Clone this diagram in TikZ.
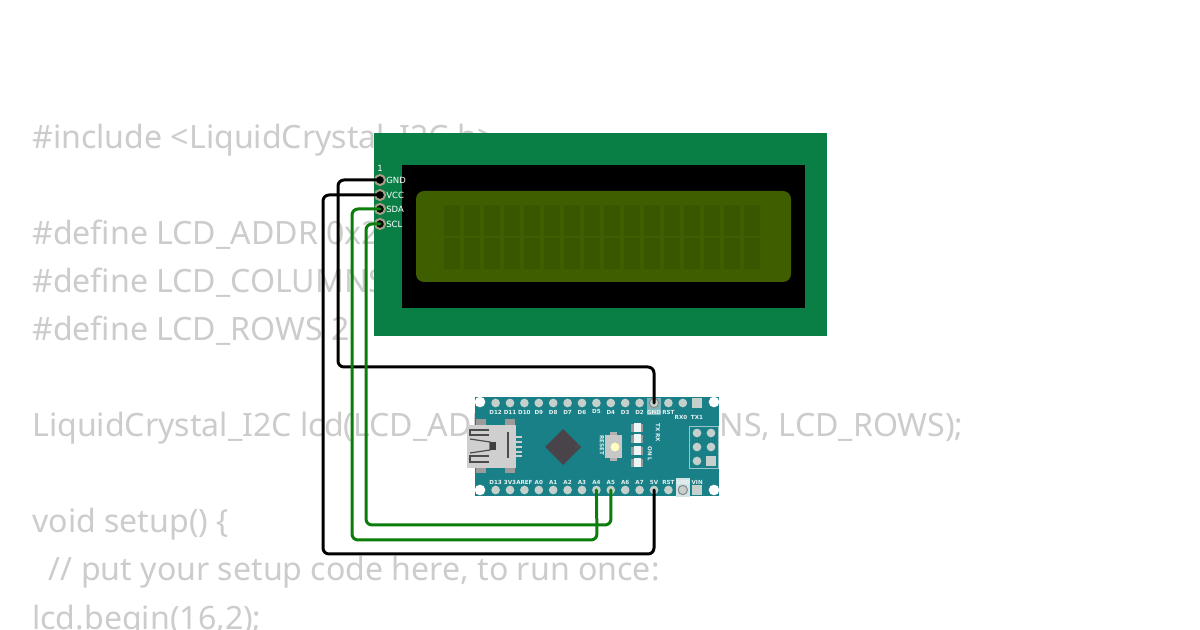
\documentclass[tikz,border=0pt]{standalone}
\usepackage{fontspec}
\setmainfont{Noto Sans}
\newfontfamily\dvfont{DejaVu Sans}
\definecolor{codegray}{HTML}{CCCCCC}
\definecolor{pcbgreen}{HTML}{0A7F45}
\definecolor{lcdgreen}{HTML}{3E5E00}
\definecolor{lcdcell}{HTML}{385700}
\definecolor{pinring}{HTML}{A79F83}
\definecolor{nanoteal}{HTML}{1A8087}
\definecolor{nanopin}{HTML}{C5D0CC}
\definecolor{wiregreen}{HTML}{0A7D0A}
\definecolor{usbgray}{HTML}{CFCFCF}
\definecolor{chipgray}{HTML}{48444A}
\tikzset{
  x=0.75pt,y=-0.75pt,
  codeline/.style={anchor=base west,inner sep=0pt,text=codegray,font=\fontsize{24.08}{29}\selectfont},
  lcdpin/.style={circle,draw=pinring,line width=1.5pt,fill=black,minimum size=7.5pt,inner sep=0pt},
  lcdlabel/.style={anchor=west,inner sep=0pt,text=white,font=\dvfont\fontsize{6.4}{7}\selectfont},
  nanohole/.style={circle,fill=nanopin,minimum size=6.5pt,inner sep=0pt},
  gndhole/.style={circle,draw=black!45,fill=nanopin,line width=.8pt,minimum size=7pt,inner sep=0pt},
  nanosq/.style={rectangle,fill=nanopin,minimum size=7.5pt,inner sep=0pt},
  nanolabel/.style={inner sep=0pt,text=white!90!nanoteal,font=\dvfont\bfseries\fontsize{4.2}{5}\selectfont},
  corner/.style={circle,fill=white,minimum size=8pt,inner sep=0pt},
  wire/.style={line width=2.25pt,rounded corners=4.5pt,line cap=round},
  usbline/.style={black!70,line width=.9pt},
}
\begin{document}
\begin{tikzpicture}
\useasboundingbox (0,0) rectangle (1200,630);
\fill[white] (0,0) rectangle (1200,630);
% code
\node[codeline] (c1) at (32,149) {\#include <LiquidCrystal\_I2C.h>};
\node[codeline] (c2) at (32,245) {\#define LCD\_ADDR 0x27};
\node[codeline] (c3) at (32,293) {\#define LCD\_COLUMNS 16};
\node[codeline] (c4) at (32,341) {\#define LCD\_ROWS 2};
\node[codeline] (c5) at (32,437) {LiquidCrystal\_I2C lcd(LCD\_ADDR, LCD\_COLUMNS, LCD\_ROWS);};
\node[codeline] (c6) at (32,533) {void setup() \{};
\node[codeline] (c7) at (32,581) {\hspace*{12.5pt}// put your setup code here, to run once:};
\node[codeline] (c8) at (32,629) {lcd.begin(16,2);};
% LCD
\fill[pcbgreen] (374,133) rectangle (827,336);
\fill[black] (402,165) rectangle (805,308);
\fill[lcdgreen,rounded corners=6pt] (416,191) rectangle (791,282);
\foreach \i in {0,...,15}{
  \fill[lcdcell] (444+20.03*\i,205) rectangle ++(15.5,31);
  \fill[lcdcell] (444+20.03*\i,238) rectangle ++(15.5,31);
}
\node[lcdlabel,anchor=center] (one) at (380,168) {1};
\node[lcdpin] (lg) at (380,180) {};
\node[lcdpin] (lv) at (380,195) {};
\node[lcdpin] (ls) at (380,209) {};
\node[lcdpin] (lc) at (380,224) {};
\node[lcdlabel] (tg) at (386,180.5) {GND};
\node[lcdlabel] (tv) at (386,195) {VCC};
\node[lcdlabel] (ts) at (386,209.5) {SDA};
\node[lcdlabel] (tc) at (386,224.5) {SCL};
% Nano board
\fill[nanoteal] (475,397) rectangle (719,496);
\fill[white!42!nanoteal] (647,398) rectangle (661,415);
\fill[white!80!nanoteal] (676,478) rectangle (690,497);
\foreach \p/\n in {480/a,714/b}{
  \node[corner] (ct\n) at (\p,402) {};
  \node[corner] (cb\n) at (\p,490) {};
}
% header pins
\foreach \n/\l [count=\i from 0] in {d12/D12,d11/D11,d10/D10,d9/D9,d8/D8,d7/D7,d6/D6,d5/D5,d4/D4,d3/D3,d2/D2,gndt/GND,rstt/RST}{
  \node[nanohole] (\n) at (495.6+14.4*\i,403) {};
  \node[nanolabel] (lab\n) at (495.6+14.4*\i,412) {\l};
}
\node[nanohole] (rx) at (682.8,403) {};
\node[nanosq] (tx) at (697.2,403) {};
\node[nanolabel] (labrx) at (681,417) {RX0};
\node[nanolabel] (labtx) at (697,417) {TX1};
\foreach \n/\l [count=\i from 0] in {d13/D13,v33/3V3,aref/AREF,a0/A0,a1/A1,a2/A2,a3/A3,a4/A4,a5/A5,a6/A6,a7/A7,v5/5V,rstb/RST}{
  \node[nanohole] (\n) at (495.6+14.4*\i,490) {};
  \node[nanolabel] (lab\n) at (495.6+14.4*\i,482) {\l};
}
\node[gndhole] (gndb) at (682.8,490) {};
\node[nanosq] (vin) at (697.2,490) {};
\node[nanolabel] (labgndb) at (682.8,482) {GND};
\node[nanolabel] (labvin) at (697.2,482) {VIN};
\node[gndhole] at (gndt) {};
% USB
\foreach \x in {476,505}{
  \fill[black!25!usbgray] (\x,419) rectangle ++(10,6);
  \fill[black!25!usbgray] (\x,468) rectangle ++(10,5);
}
\foreach \y in {437,442,447,452,456} \fill[usbgray] (516,\y-1) rectangle (522,\y+1);
\fill[usbgray] (467,425) rectangle (516,468);
\draw[usbline] (489,430) -- (470,430) -- (470,435) -- (489,435);
\draw[usbline] (470,439) -- (490,442) -- (490,450) -- (470,453);
\draw[usbline] (489,456) -- (470,456) -- (470,462) -- (489,462);
\fill[black!75] (490,442) rectangle (496,450);
\draw[usbline] (508,432) -- (508,458);
% chip
\fill[chipgray] (563,429) -- (581,447) -- (563,465) -- (545,447) -- cycle;
\fill[black!70] (577,447) circle (2);
% reset
\fill[black!30] (610,432) rectangle (617,461);
\fill[black!22] (605,435) rectangle (622,458);
\fill[yellow!25!white,draw=black!25,line width=.4pt] (615,447) circle (5);
\node[nanolabel,rotate=-90] (labreset) at (602,445) {RESET};
% LEDs
\foreach \y in {428,439,451,463}{
  \fill[black!40] (631,\y-4) rectangle (643,\y+4);
  \fill[white!92!nanoteal] (634,\y-4.5) rectangle (640.5,\y+4.5);
}
\node[nanolabel,rotate=-90] (labtxrx) at (658,433) {TX\,\,RX};
\node[nanolabel,rotate=-90] (labonl) at (650,454) {ON\,\,L};
% ICSP
\draw[white!55!nanoteal,line width=.6pt] (689,426) rectangle (718,468);
\foreach \x/\y/\n in {697/433/a,711/433/b,697/447/c,711/447/d,697/461/e}
  \node[nanohole] (icsp\n) at (\x,\y) {};
\node[nanosq] (icspf) at (711,461) {};
% wires
\draw[wire,black] (lg.center) -- (338,180) -- (338,367) -- (654,367) -- (gndt.center);
\draw[wire,black] (lv.center) -- (323,195) -- (323,554) -- (654,554) -- (v5.center);
\draw[wire,wiregreen] (ls.center) -- (352,209) -- (352,540) -- (597,540) -- (a4.center);
\draw[wire,wiregreen] (lc.center) -- (366,224) -- (366,525) -- (611,525) -- (a5.center);
\end{tikzpicture}
\end{document}
